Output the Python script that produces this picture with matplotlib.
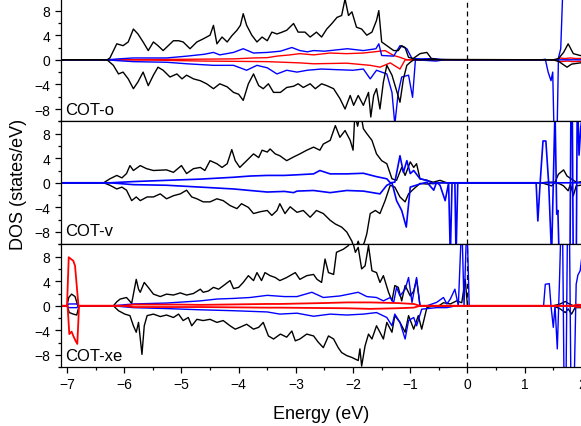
import numpy as np
import matplotlib
matplotlib.use('Agg')
import matplotlib.pyplot as plt
from matplotlib.ticker import MultipleLocator

plt.rcParams['font.family'] = ['Liberation Sans', 'DejaVu Sans']

panel_labels = ['COT-o', 'COT-v', 'COT-xe']
x_ticks = [-7, -6, -5, -4, -3, -2, -1, 0, 1, 2]
y_ticks = [-8, -4, 0, 4, 8]

# ---------------- COT-o ----------------
o_tot_up = [(-7.1, 0), (-6.3, 0), (-6.25, 0.3), (-6.13, 2.6), (-6.02, 2.3), (-5.93, 2.9), (-5.84, 5.0),
            (-5.76, 4.2), (-5.67, 2.9), (-5.58, 1.5), (-5.49, 2.9), (-5.41, 2.3), (-5.32, 1.5), (-5.23, 2.3),
            (-5.14, 3.1), (-5.05, 3.1), (-4.97, 2.9), (-4.85, 1.8), (-4.73, 2.9), (-4.62, 3.4), (-4.50, 4.0),
            (-4.44, 5.6), (-4.38, 2.6), (-4.29, 3.7), (-4.20, 2.9), (-4.12, 3.9), (-4.03, 4.8), (-3.97, 5.6),
            (-3.92, 7.5), (-3.86, 5.6), (-3.77, 4.0), (-3.68, 2.9), (-3.59, 3.7), (-3.50, 3.1), (-3.42, 4.5),
            (-3.33, 4.2), (-3.24, 4.5), (-3.16, 4.8), (-3.04, 5.9), (-2.96, 4.5), (-2.84, 4.5), (-2.75, 3.7),
            (-2.64, 4.5), (-2.55, 3.7), (-2.46, 5.0), (-2.37, 5.9), (-2.28, 6.9), (-2.20, 7.2), (-2.14, 9.9),
            (-2.08, 7.2), (-2.02, 7.8), (-1.94, 5.3), (-1.85, 5.0), (-1.76, 4.0), (-1.67, 4.5), (-1.59, 6.4),
            (-1.55, 8.0), (-1.50, 2.9), (-1.41, 2.3), (-1.29, 1.5), (-1.21, 1.5), (-1.15, 2.3), (-1.09, 2.0),
            (-1.03, 0.4), (-0.95, 0.2), (-0.83, 1.0), (-0.71, 1.2), (-0.63, 0.2), (-0.50, 0.05), (-0.30, 0.05),
            (1.50, 0), (1.59, 0.2), (1.68, 1.2), (1.76, 2.6), (1.85, 1.0), (1.97, 0.7), (2.05, 0.6)]
o_tot_dn = [(-7.1, 0), (-6.3, 0), (-6.19, -0.9), (-6.10, -2.3), (-6.02, -2.0), (-5.93, -3.1), (-5.84, -4.7),
            (-5.76, -3.6), (-5.67, -2.0), (-5.58, -4.2), (-5.49, -2.5), (-5.41, -1.2), (-5.32, -1.7),
            (-5.20, -2.8), (-5.08, -2.3), (-4.99, -3.1), (-4.91, -2.5), (-4.79, -3.1), (-4.67, -3.4),
            (-4.56, -3.9), (-4.44, -4.7), (-4.33, -3.9), (-4.20, -4.4), (-4.09, -5.3), (-4.00, -5.6),
            (-3.92, -6.6), (-3.83, -3.9), (-3.74, -2.3), (-3.65, -4.2), (-3.57, -4.7), (-3.48, -3.9),
            (-3.39, -5.3), (-3.27, -5.3), (-3.16, -4.5), (-3.04, -4.3), (-2.96, -3.9), (-2.87, -4.5),
            (-2.75, -3.9), (-2.66, -4.7), (-2.55, -3.9), (-2.46, -4.2), (-2.34, -4.7), (-2.23, -6.3),
            (-2.14, -8.0), (-2.05, -5.8), (-1.99, -7.4), (-1.91, -5.8), (-1.82, -7.4), (-1.73, -5.3),
            (-1.69, -9.3), (-1.64, -5.8), (-1.59, -4.7), (-1.53, -8.0), (-1.47, -3.6), (-1.41, -0.9),
            (-1.32, -2.5), (-1.24, -5.0), (-1.18, -6.9), (-1.12, -3.1), (-1.06, -0.9), (-1.00, -0.4),
            (-0.94, 0), (1.50, 0), (1.60, -0.3), (1.74, -1.2), (1.82, -0.7), (2.05, -0.4)]
o_blue_up = [(-7.1, 0), (-6.3, 0), (-6.10, 0.15), (-5.84, 0.3), (-5.26, 0.3), (-4.90, 0.6), (-4.60, 0.9),
             (-4.44, 1.2), (-4.33, 0.8), (-4.09, 1.2), (-3.92, 1.8), (-3.74, 1.1), (-3.50, 1.2), (-3.27, 1.4),
             (-3.07, 2.0), (-2.93, 1.5), (-2.80, 1.3), (-2.69, 1.5), (-2.50, 1.4), (-2.30, 1.6), (-2.10, 1.8),
             (-1.82, 1.5), (-1.60, 1.8), (-1.55, 2.6), (-1.50, 0.7), (-1.29, 0.6), (-1.18, 2.3), (-1.06, 1.8),
             (-0.97, 0.2), (-0.80, 0.15), (-0.60, 0.2), (-0.45, 0.05), (-0.20, 0), (1.30, 0), (1.36, 0.1),
             (1.41, -2.0), (1.46, -3.4), (1.49, -2.0), (1.52, -15), (1.56, -15), (1.59, 0.3), (1.63, 1.8),
             (1.68, 15), (2.05, 15)]
o_blue_dn = [(-7.1, 0), (-6.3, 0), (-6.10, -0.15), (-5.84, -0.3), (-5.26, -0.4), (-4.90, -0.65), (-4.44, -0.9),
             (-4.09, -0.9), (-3.86, -1.7), (-3.68, -0.9), (-3.50, -1.3), (-3.33, -2.3), (-3.16, -1.7),
             (-2.98, -2.0), (-2.80, -1.7), (-2.55, -1.5), (-2.30, -1.6), (-2.00, -1.7), (-1.82, -1.5),
             (-1.70, -3.1), (-1.59, -1.7), (-1.41, -2.3), (-1.32, -5.3), (-1.27, -10.5), (-1.21, -5.3),
             (-1.15, -2.8), (-1.03, -2.5), (-0.96, -6.1), (-0.91, 0), (-0.55, -0.2), (-0.40, 0), (2.05, 0)]
o_red_up = [(-7.1, 0), (-6.2, 0), (-5.50, 0.05), (-4.67, 0.1), (-4.09, 0.15), (-3.74, 0.3), (-3.50, 0.35),
            (-3.33, 0.6), (-3.10, 0.8), (-2.93, 1.0), (-2.69, 0.8), (-2.40, 1.1), (-2.11, 1.0), (-1.82, 1.1),
            (-1.53, 1.4), (-1.44, 1.5), (-1.29, 0.7), (-1.18, 0.4), (-1.06, 0), (1.55, 0), (1.62, 0.3),
            (1.70, 0.2), (1.80, 0.3), (1.90, 0.2), (2.05, 0.25)]
o_red_dn = [(-7.1, 0), (-6.2, 0), (-5.50, -0.05), (-4.67, -0.2), (-4.09, -0.25), (-3.50, -0.3), (-2.93, -0.5),
            (-2.69, -0.65), (-2.11, -0.55), (-1.70, -0.9), (-1.53, -1.2), (-1.35, -0.5), (-1.18, -1.5),
            (-1.09, 0), (1.55, 0), (1.62, -0.3), (1.75, -0.2), (1.85, -0.3), (2.05, -0.2)]

# ---------------- COT-v ----------------
v_tot_up = [(-7.1, 0), (-6.36, 0), (-6.25, 0.65), (-6.13, 1.2), (-6.04, 0.8), (-5.96, 1.5), (-5.90, 2.8),
            (-5.84, 2.0), (-5.72, 2.8), (-5.61, 2.3), (-5.49, 2.0), (-5.26, 2.1), (-5.14, 1.7), (-5.00, 2.8),
            (-4.91, 1.5), (-4.79, 2.3), (-4.67, 2.5), (-4.59, 2.0), (-4.50, 3.6), (-4.38, 3.1), (-4.29, 2.5),
            (-4.20, 3.1), (-4.12, 5.4), (-4.06, 3.6), (-3.98, 2.5), (-3.86, 3.6), (-3.74, 4.7), (-3.65, 4.1),
            (-3.59, 5.3), (-3.50, 5.0), (-3.45, 5.5), (-3.36, 4.7), (-3.28, 4.4), (-3.16, 3.6), (-3.04, 4.2),
            (-2.93, 4.7), (-2.81, 5.3), (-2.69, 5.8), (-2.58, 5.3), (-2.52, 6.3), (-2.40, 6.9), (-2.31, 9.3),
            (-2.23, 7.4), (-2.14, 8.5), (-2.05, 6.9), (-2.00, 5.3), (-1.97, 11), (-1.92, 9.2), (-1.87, 11.5),
            (-1.82, 8.8), (-1.76, 8.0), (-1.67, 6.9), (-1.59, 4.7), (-1.50, 3.6), (-1.41, 3.1), (-1.32, 0.65),
            (-1.24, 0.4), (-1.15, 2.5), (-1.09, 1.2), (-1.00, 3.4), (-0.94, 2.5), (-0.89, 3.1), (-0.83, 0.65),
            (-0.71, 0.4), (-0.60, 0.1), (-0.48, 0.4), (-0.36, 0), (1.30, 0), (1.39, 0.1), (1.53, 0.1),
            (1.59, 1.4), (1.68, 2.1), (1.74, 1.1), (1.82, 0.6), (1.91, 0.05), (2.05, 0.3)]
v_tot_dn = [(-7.1, 0), (-6.36, 0), (-6.25, -0.4), (-6.13, -1.0), (-6.04, -0.7), (-5.96, -1.2), (-5.87, -2.9),
            (-5.79, -2.3), (-5.72, -2.9), (-5.60, -2.3), (-5.49, -2.3), (-5.37, -1.8), (-5.26, -2.6),
            (-5.14, -2.1), (-5.02, -1.8), (-4.91, -1.2), (-4.82, -2.3), (-4.73, -2.6), (-4.62, -3.1),
            (-4.50, -3.1), (-4.38, -2.6), (-4.27, -2.9), (-4.15, -3.7), (-4.03, -4.2), (-3.95, -3.4),
            (-3.83, -4.0), (-3.74, -5.0), (-3.62, -4.7), (-3.50, -4.5), (-3.42, -5.3), (-3.33, -4.5),
            (-3.28, -3.4), (-3.19, -5.0), (-3.10, -3.9), (-2.98, -4.8), (-2.87, -4.5), (-2.75, -5.6),
            (-2.64, -4.5), (-2.52, -5.0), (-2.40, -6.1), (-2.31, -6.7), (-2.20, -7.2), (-2.11, -8.0),
            (-2.02, -9.5), (-1.97, -11), (-1.91, -9.5), (-1.86, -11), (-1.80, -9.6), (-1.76, -8.3),
            (-1.70, -5.0), (-1.61, -4.5), (-1.53, -5.0), (-1.44, -2.9), (-1.35, -0.4), (-1.27, -0.7),
            (-1.18, -2.3), (-1.09, -3.1), (-1.03, -1.8), (-0.94, -1.0), (-0.83, -0.1), (-0.71, -0.2),
            (-0.50, 0), (1.30, 0), (1.47, -0.5), (1.53, 0.05), (1.62, -0.2), (1.68, -0.5), (1.76, -1.3),
            (1.80, -0.2), (1.85, -2.1), (1.90, -0.5), (2.05, -0.3)]
v_blue_up = [(-7.1, 0), (-6.25, 0), (-5.84, 0.2), (-5.26, 0.4), (-4.67, 0.6), (-4.09, 0.9), (-3.80, 1.1),
             (-3.50, 1.2), (-3.20, 1.2), (-2.98, 1.3), (-2.69, 1.45), (-2.58, 2.0), (-2.40, 1.45), (-2.11, 1.45),
             (-1.82, 1.55), (-1.59, 1.0), (-1.41, 0.65), (-1.35, 0), (-1.27, 0.1), (-1.18, 4.4), (-1.12, 1.7),
             (-1.06, 3.6), (-1.00, 1.5), (-0.94, 2.0), (-0.83, 0.65), (-0.71, 0.4), (-0.60, -0.15), (-0.55, 0),
             (1.20, 0), (1.23, -6.2), (1.27, 0), (1.32, 6.8), (1.37, 6.8), (1.42, -0.2), (1.47, -12),
             (1.50, 0), (1.53, 12), (1.56, -5.1), (1.58, -4.5), (1.61, -15), (1.79, -15), (1.81, 15),
             (1.83, 15), (1.85, -15), (1.90, -15), (1.92, 15), (1.95, 4.5), (1.98, 9), (2.05, 14)]
v_blue_dn = [(-7.1, 0), (-6.25, 0), (-5.84, -0.3), (-5.26, -0.4), (-4.67, -0.7), (-4.09, -1.0), (-3.80, -1.25),
             (-3.50, -1.5), (-3.20, -1.4), (-3.04, -1.6), (-2.98, -1.35), (-2.69, -1.25), (-2.40, -1.6),
             (-2.11, -1.25), (-1.82, -1.35), (-1.53, -1.8), (-1.41, -0.4), (-1.32, 0), (-1.24, -2.9),
             (-1.15, -4.5), (-1.07, -7.2), (-1.00, -0.7), (-0.83, -0.2), (-0.71, 0.1), (-0.59, -1.2),
             (-0.54, 0.1), (-0.48, -0.4), (-0.39, -2.9), (-0.33, 0), (-0.30, -12), (-0.27, 0), (-0.22, 0),
             (-0.20, -12), (-0.17, 0), (2.05, 0)]

# ---------------- COT-xe ----------------
x_tot_up = [(-7.1, 0), (-7.0, 0), (-6.97, 1.35), (-6.92, 1.9), (-6.86, 1.5), (-6.81, 0), (-6.19, 0),
            (-6.13, 0.65), (-6.07, 1.1), (-5.96, 1.35), (-5.87, 0.4), (-5.79, 4.3), (-5.75, 2.7), (-5.72, 2.2),
            (-5.65, 3.8), (-5.58, 3.0), (-5.49, 1.9), (-5.37, 1.5), (-5.26, 1.9), (-5.14, 1.75), (-5.02, 2.1),
            (-4.91, 1.75), (-4.79, 2.0), (-4.67, 2.7), (-4.62, 2.2), (-4.53, 2.4), (-4.44, 3.0), (-4.35, 2.7),
            (-4.27, 3.25), (-4.15, 4.1), (-4.09, 2.8), (-4.00, 3.0), (-3.92, 3.8), (-3.83, 4.9), (-3.74, 4.1),
            (-3.68, 5.4), (-3.60, 4.1), (-3.54, 5.4), (-3.45, 4.9), (-3.36, 4.6), (-3.28, 4.1), (-3.16, 4.6),
            (-3.01, 5.4), (-2.93, 4.3), (-2.81, 4.9), (-2.69, 5.1), (-2.63, 4.3), (-2.55, 3.8), (-2.49, 7.6),
            (-2.43, 5.4), (-2.34, 5.1), (-2.29, 8.7), (-2.17, 9.2), (-2.08, 9.8), (-2.02, 11), (-1.96, 8.7),
            (-1.91, 9.5), (-1.85, 6.0), (-1.79, 6.5), (-1.73, 9.8), (-1.67, 5.7), (-1.59, 5.4), (-1.53, 3.8),
            (-1.47, 4.9), (-1.38, 2.2), (-1.32, 0.8), (-1.27, 3.3), (-1.21, 3.0), (-1.15, 0.8), (-1.09, 3.3),
            (-1.00, 1.6), (-0.94, 2.4), (-0.89, 4.3), (-0.83, 0), (-0.50, 0), (-0.42, 0.5), (-0.30, 0.3),
            (-0.19, 0.8), (-0.10, 0.5), (-0.04, 4.3), (0.00, 0), (1.50, 0), (1.62, 0.3), (1.71, 0.7),
            (1.76, 0.4), (1.85, 0), (1.94, 0.1), (2.05, 0.3)]
x_tot_dn = [(-7.1, 0), (-7.0, 0), (-6.96, -1.1), (-6.89, -1.35), (-6.83, -1.5), (-6.79, 0), (-6.19, 0),
            (-6.10, -0.8), (-5.99, -1.35), (-5.90, -1.6), (-5.84, -3.25), (-5.79, -4.3), (-5.75, -2.7),
            (-5.69, -7.9), (-5.65, -3.25), (-5.60, -1.6), (-5.49, -1.35), (-5.37, -1.75), (-5.26, -1.5),
            (-5.14, -1.9), (-5.05, -1.35), (-4.97, -2.4), (-4.88, -1.9), (-4.82, -3.25), (-4.73, -2.2),
            (-4.62, -2.4), (-4.50, -2.2), (-4.38, -2.7), (-4.27, -2.4), (-4.15, -3.25), (-4.06, -3.8),
            (-3.98, -3.5), (-3.86, -3.0), (-3.74, -3.8), (-3.65, -3.5), (-3.57, -2.7), (-3.48, -4.9),
            (-3.39, -5.4), (-3.27, -4.6), (-3.16, -5.1), (-3.07, -4.1), (-3.01, -5.7), (-2.93, -5.4),
            (-2.81, -4.6), (-2.69, -4.9), (-2.61, -5.9), (-2.52, -6.8), (-2.43, -4.9), (-2.34, -5.4),
            (-2.26, -6.8), (-2.20, -7.6), (-2.11, -8.1), (-2.02, -8.4), (-1.91, -8.9), (-1.88, -7.0),
            (-1.85, -9.8), (-1.79, -6.5), (-1.73, -4.6), (-1.67, -5.4), (-1.59, -3.25), (-1.53, -4.3),
            (-1.47, -5.4), (-1.41, -2.7), (-1.32, -4.3), (-1.27, -1.6), (-1.18, -2.7), (-1.09, -4.3),
            (-1.03, -1.6), (-0.94, -3.8), (-0.86, -1.6), (-0.80, -3.8), (-0.71, -0.3), (-0.60, 0),
            (1.50, 0), (1.62, -0.5), (1.71, -1.1), (1.76, -0.5), (1.82, -1.35), (1.88, -0.3), (1.97, -0.3),
            (2.05, -0.4)]
x_blue_up = [(-7.1, 0), (-7.0, 0), (-6.97, 0.3), (-6.83, 0.3), (-6.80, 0), (-6.20, 0), (-5.84, 0.3),
             (-5.26, 0.45), (-4.67, 0.8), (-4.38, 1.1), (-4.09, 1.2), (-3.80, 1.35), (-3.50, 1.7), (-3.20, 1.5),
             (-2.98, 1.5), (-2.72, 2.2), (-2.52, 1.35), (-2.23, 1.6), (-1.91, 2.2), (-1.76, 1.5), (-1.59, 1.35),
             (-1.47, 0.8), (-1.35, 1.35), (-1.29, 0.55), (-1.24, 3.0), (-1.18, 1.6), (-1.09, 2.7), (-1.03, 4.6),
             (-0.97, 0.55), (-0.89, 4.6), (-0.83, 0), (-0.71, 0), (-0.54, 0.55), (-0.42, 1.35), (-0.36, 0.3),
             (-0.30, 1.1), (-0.22, 2.7), (-0.16, 0), (-0.10, 14), (-0.06, 0), (-0.01, 14), (0.03, 0),
             (1.33, 0), (1.36, 3.5), (1.43, 3.6), (1.46, 0), (1.50, -3.5), (1.53, 0), (1.57, -7.0),
             (1.61, 4.6), (1.64, 15), (1.66, 15), (1.69, -15), (1.72, -15), (1.75, 15), (1.78, 15),
             (1.81, -15), (1.86, -15), (1.90, 3.5), (1.93, 5.0), (1.97, 5.7), (2.00, 8), (2.05, 12)]
x_blue_dn = [(-7.1, 0), (-7.0, 0), (-6.97, -0.3), (-6.83, -0.3), (-6.80, 0), (-6.20, 0), (-5.84, -0.3),
             (-5.26, -0.45), (-4.67, -0.65), (-4.09, -0.8), (-3.50, -1.0), (-3.28, -1.35), (-2.98, -1.2),
             (-2.69, -1.7), (-2.40, -1.35), (-2.11, -1.5), (-1.82, -1.35), (-1.59, -1.1), (-1.41, -1.9),
             (-1.32, -3.25), (-1.27, -1.35), (-1.18, -2.7), (-1.09, -5.4), (-1.03, -2.4), (-0.94, -1.9),
             (-0.89, -3.25), (-0.80, -0.55), (-0.54, -0.3), (-0.36, -0.3), (-0.20, 0), (2.05, 0)]
x_red_up = [(-7.1, 0), (-7.0, 0), (-6.97, 7.9), (-6.89, 7.3), (-6.86, 6.5), (-6.80, 0), (-6.00, 0),
            (-5.84, 0.2), (-5.00, 0.2), (-4.67, 0.15), (-3.50, 0.3), (-3.28, 0.3), (-2.50, 0.45), (-2.11, 0.55),
            (-1.70, 0.55), (-1.24, 0.45), (-0.94, 0.3), (-0.83, 0), (1.85, 0), (1.90, 0.2), (2.05, 0.1)]
x_red_dn = [(-7.1, 0), (-6.99, 0), (-6.96, -4.6), (-6.92, -4.2), (-6.89, -4.9), (-6.85, -5.7), (-6.82, -6.2),
            (-6.79, 0), (-6.00, 0), (-5.84, -0.2), (-4.67, -0.2), (-3.50, -0.3), (-3.28, -0.3), (-2.11, -0.4),
            (-1.70, -0.5), (-1.24, -0.4), (-0.94, -0.3), (-0.83, 0), (1.85, 0), (1.92, -0.2), (2.05, -0.1)]

BLACK, BLUE, RED = '#000000', '#0000ff', '#ff0000'

panels = [
    [(o_red_up, RED, 1.0), (o_red_dn, RED, 1.0), (o_blue_up, BLUE, 1.0), (o_blue_dn, BLUE, 1.0),
     (o_tot_up, BLACK, 1.0), (o_tot_dn, BLACK, 1.0)],
    [(v_tot_up, BLACK, 1.0), (v_tot_dn, BLACK, 1.0), (v_blue_up, BLUE, 1.2), (v_blue_dn, BLUE, 1.2)],
    [(x_tot_up, BLACK, 1.0), (x_tot_dn, BLACK, 1.0), (x_blue_up, BLUE, 1.0), (x_blue_dn, BLUE, 1.0),
     (x_red_up, RED, 1.3), (x_red_dn, RED, 1.3)],
]
label_y = [0.062, 0.075, 0.062]

W, Hpx = 581, 427
fig = plt.figure(figsize=(W / 100, Hpx / 100), dpi=100)
left = 61.3 / W
width = (581.9 - 61.3) / W
h = 123 / Hpx
bottom0 = 1 - 368.3 / Hpx
bottoms = [bottom0 + 2 * h, bottom0 + h, bottom0]

for i, (series, name) in enumerate(zip(panels, panel_labels)):
    ax = fig.add_axes([left, bottoms[i], width, h])
    ax.axvline(0, color='black', lw=0.9, ls=(0, (4, 3)), zorder=1.5)
    for pairs, col, lw in series:
        e = [p[0] for p in pairs]
        v = [p[1] for p in pairs]
        ax.plot(e, v, color=col, lw=lw, zorder=2)
    ax.set_xlim(-7.1, 2.0)
    ax.set_ylim(-10, 10)
    ax.set_xticks(x_ticks)
    ax.set_yticks(y_ticks)
    ax.xaxis.set_minor_locator(MultipleLocator(0.5))
    ax.yaxis.set_minor_locator(MultipleLocator(2))
    ax.tick_params(which='major', direction='out', length=4.3, width=0.9, labelsize=10)
    ax.tick_params(which='minor', direction='out', length=2.3, width=0.9)
    ax.tick_params(axis='y', which='major', pad=3.5)
    ax.tick_params(axis='x', which='major', pad=2.5)
    for s in ax.spines.values():
        s.set_linewidth(0.9)
    if i < 2:
        ax.tick_params(axis='x', labelbottom=False)
    ax.text(0.007, label_y[i], name, transform=ax.transAxes, fontsize=12, va='baseline', ha='left')

fig.text((61.3 + 581.9) / 2 / W, 1 - 419.3 / Hpx, 'Energy (eV)', fontsize=13, ha='center', va='baseline')
fig.text(19 / W, 1 - 184 / Hpx, 'DOS (states/eV)', fontsize=13, ha='center', va='center', rotation=90)

fig.savefig('out.png', dpi=100)
